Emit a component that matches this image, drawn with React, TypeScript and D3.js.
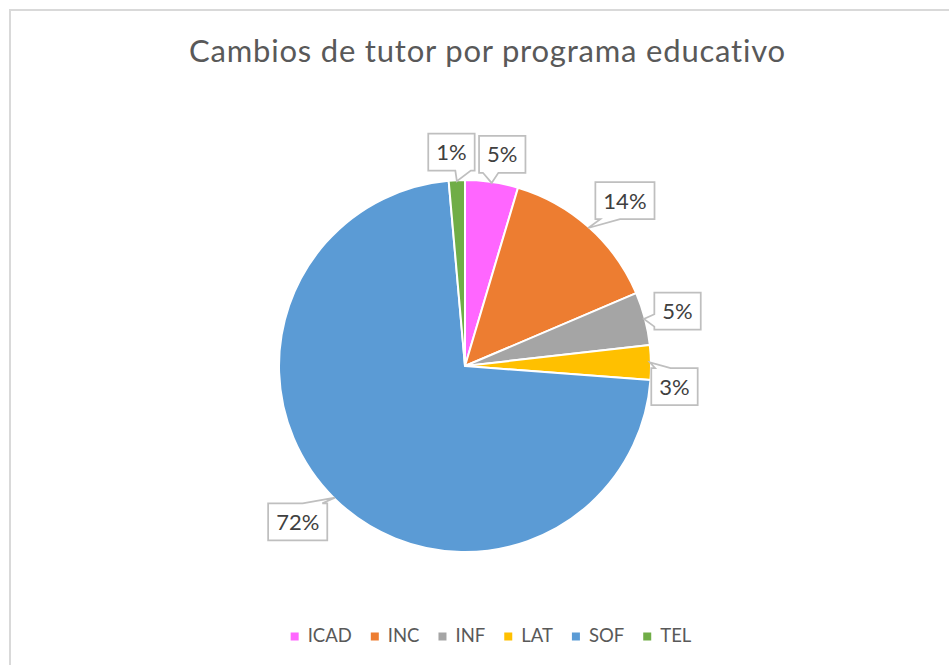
import React, { useEffect, useRef } from "react";
import * as d3 from "d3";

// ---- data ----
const categories = ["ICAD", "INC", "INF", "LAT", "SOF", "TEL"];
const values = [4.6, 14.0, 4.6, 3.0, 72.4, 1.4];
const colors = ["#FF66FF", "#ED7D31", "#A5A5A5", "#FFC000", "#5B9BD5", "#70AD47"];
const titleText = "Cambios de tutor por programa educativo";

// ---- label layout (angle shift in degrees from slice mid angle, distance from centre) ----
const labelAngleShift = [1.7, 2.3, 0.3, 6.7, 2.4, -1.1];
const labelDistance = [215, 230, 219.5, 210.5, 228.6, 214.4];

const W = 949;
const H = 665;
const CX = 465;
const CY = 366;
const R = 186;
const FONT = "Lato, 'Open Sans', sans-serif";

function calloutPath(x0: number, y0: number, w: number, h: number, tx: number, ty: number) {
  const cx = x0 + w / 2;
  const cy = y0 + h / 2;
  const dx = (tx - cx) / w;
  const dy = (ty - cy) / h;
  const x1 = x0 + w, y1 = y0 + h;
  const pts: [number, number][] = [];
  const vertical = Math.abs(dy) >= Math.abs(dx);
  const left = tx < cx;
  const up = ty < cy;
  const xa = left ? x0 + w / 12 : x0 + (7 * w) / 12;
  const xb = left ? x0 + (5 * w) / 12 : x0 + (11 * w) / 12;
  const ya = up ? y0 + h / 12 : y0 + (7 * h) / 12;
  const yb = up ? y0 + (5 * h) / 12 : y0 + (11 * h) / 12;
  pts.push([x0, y0]);
  if (vertical && up) { pts.push([xa, y0], [tx, ty], [xb, y0]); }
  pts.push([x1, y0]);
  if (!vertical && !left) { pts.push([x1, ya], [tx, ty], [x1, yb]); }
  pts.push([x1, y1]);
  if (vertical && !up) { pts.push([xb, y1], [tx, ty], [xa, y1]); }
  pts.push([x0, y1]);
  if (!vertical && left) { pts.push([x0, yb], [tx, ty], [x0, ya]); }
  return "M" + pts.map((p) => p[0].toFixed(2) + "," + p[1].toFixed(2)).join("L") + "Z";
}

export default function App() {
  const ref = useRef<SVGSVGElement | null>(null);

  useEffect(() => {
    const svg = d3.select(ref.current);
    svg.selectAll("*").remove();

    svg.append("rect").attr("x", 0).attr("y", 0).attr("width", W).attr("height", H).attr("fill", "#fff");
    svg.append("rect")
      .attr("x", 10).attr("y", 10).attr("width", W + 20).attr("height", H + 20)
      .attr("fill", "#fff").attr("stroke", "#d9d9d9").attr("stroke-width", 2);

    svg.append("text")
      .attr("x", 487.5).attr("y", 62)
      .attr("text-anchor", "middle")
      .attr("font-family", FONT).attr("font-size", 31)
      .attr("letter-spacing", 0.8)
      .attr("fill", "#595959")
      .text(titleText);

    const total = d3.sum(values);
    const pie = d3.pie<number>().sort(null).value((d) => d).startAngle(0).endAngle(2 * Math.PI);
    const arcs = pie(values);
    const arc = d3.arc<d3.PieArcDatum<number>>().innerRadius(0).outerRadius(R);

    const g = svg.append("g").attr("transform", `translate(${CX},${CY})`);
    g.selectAll("path.slice")
      .data(arcs)
      .enter()
      .append("path")
      .attr("class", "slice")
      .attr("d", arc as any)
      .attr("fill", (_d, i) => colors[i])
      .attr("stroke", "#fff")
      .attr("stroke-width", 2)
      .attr("stroke-linejoin", "round");

    // callouts
    const lg = svg.append("g");
    arcs.forEach((a, i) => {
      const mid = (a.startAngle + a.endAngle) / 2;
      const tipX = CX + Math.sin(mid) * (R - 1);
      const tipY = CY - Math.cos(mid) * (R - 1);
      const ang = mid + (labelAngleShift[i] * Math.PI) / 180;
      const bx = CX + Math.sin(ang) * labelDistance[i];
      const by = CY - Math.cos(ang) * labelDistance[i];
      const label = d3.format(".0%")(values[i] / total);
      const t = lg.append("text")
        .attr("font-family", FONT).attr("font-size", 22)
        .attr("fill", "#404040").attr("text-anchor", "middle")
        .attr("x", bx).attr("y", by).attr("dy", "0.36em")
        .text(label);
      const tw = (t.node() as SVGTextElement).getComputedTextLength();
      const bw = tw + 16;
      const bh = 37;
      lg.insert("path", "text")
        .attr("d", calloutPath(bx - bw / 2, by - bh / 2, bw, bh, tipX, tipY))
        .attr("fill", "#fff")
        .attr("stroke", "#bfbfbf")
        .attr("stroke-width", 1.75)
        .attr("stroke-linejoin", "miter");
    });

    // legend
    const leg = svg.append("g");
    const widths: number[] = [];
    const items = categories.map((c, i) => {
      const it = leg.append("g");
      it.append("rect").attr("width", 8).attr("height", 8).attr("y", -9.5).attr("fill", colors[i]);
      const tx = it.append("text")
        .attr("x", 17).attr("font-family", FONT).attr("font-size", 18.5)
        .attr("fill", "#595959").text(c);
      widths.push(17 + (tx.node() as SVGTextElement).getComputedTextLength());
      return it;
    });
    const gap = 19;
    const totalW = d3.sum(widths) + gap * (widths.length - 1);
    let x = 491 - totalW / 2;
    items.forEach((it, i) => {
      it.attr("transform", `translate(${x},642)`);
      x += widths[i] + gap;
    });
  }, []);

  return (
    <svg
      ref={ref}
      width={W}
      height={H}
      style={{ position: "absolute", left: 0, top: 0, display: "block" }}
    />
  );
}
